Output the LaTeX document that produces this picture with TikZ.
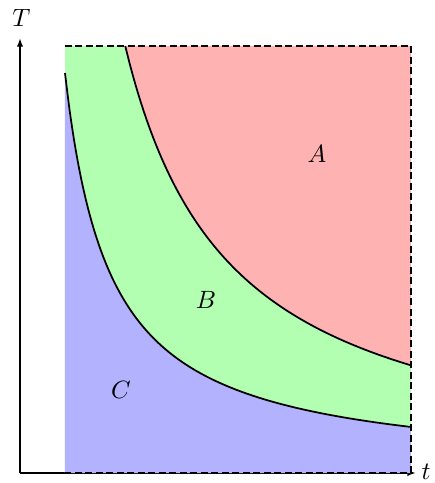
\documentclass[tikz,border=0pt]{standalone}
\usetikzlibrary{arrows.meta}
\begin{document}
\begin{tikzpicture}[x=4pt,y=4pt,
  axis/.style={line width=0.8pt,-{Latex[length=3.5pt,width=2.6pt]}},
  curve/.style={line width=0.7pt},
  border/.style={line width=0.6pt,dash pattern=on 2.8pt off 1.4pt},
  lab/.style={font=\normalsize}]
\useasboundingbox (-2,-1) rectangle (41.5,47.3);
% axes
\coordinate (O) at (0,0);
\coordinate (Ty) at (0,43.5);
\coordinate (Tx) at (39.6,0);
\draw[axis] (O) -- (Ty);
\draw[axis] (O) -- (Tx);
\node[lab] (T) at (0.15,45.5) {$T$};
\node[lab,anchor=west,inner sep=0pt] (t) at (40.1,0.1) {$t$};
% regions
\fill[green!30] (4.5,0) rectangle (39.1,42.7);
\fill[red!30] (10.53,42.7) -- plot[domain=10.53:39.1,samples=80,smooth] (\x,{460/\x-1}) -- (39.1,42.7) -- cycle;
\fill[blue!30] (4.5,0) -- plot[domain=4.5:39.1,samples=80,smooth] (\x,{180/\x}) -- (39.1,0) -- cycle;
% curves
\draw[curve] plot[domain=10.53:39.1,samples=80,smooth] (\x,{460/\x-1});
\draw[curve] plot[domain=4.5:39.1,samples=80,smooth] (\x,{180/\x});
% border
\draw[border] (4.5,42.7) -- (39.1,42.7) -- (39.1,0) -- (4.5,0);
% labels
\node[lab] (A) at (29.7,31.9) {$A$};
\node[lab] (B) at (18.6,17.3) {$B$};
\node[lab] (C) at (10.1,8.3) {$C$};
\end{tikzpicture}
\end{document}
